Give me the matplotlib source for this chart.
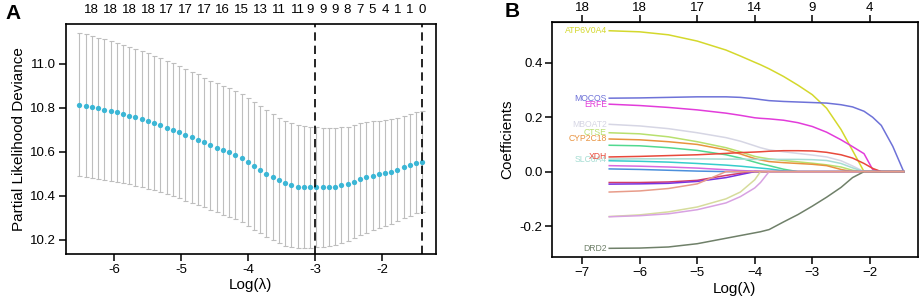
import numpy as np
import matplotlib.pyplot as plt

plt.rcParams['font.family'] = ['Liberation Sans', 'DejaVu Sans']

# ---- panel A: cross-validation curve ----
# glmnet lambda grid is evenly spaced in log(lambda)
log_lam = np.linspace(-6.52, -1.40, 56)
cv_mean = [10.814, 10.809, 10.803, 10.797, 10.791, 10.785, 10.779, 10.773, 10.764, 10.756,
           10.748, 10.739, 10.730, 10.721, 10.709, 10.700, 10.689, 10.677, 10.666, 10.655,
           10.642, 10.629, 10.618, 10.606, 10.597, 10.585, 10.570, 10.555, 10.536, 10.518,
           10.500, 10.485, 10.471, 10.456, 10.448, 10.442, 10.439, 10.439, 10.439, 10.439,
           10.439, 10.441, 10.447, 10.454, 10.464, 10.474, 10.483, 10.491, 10.497, 10.503,
           10.510, 10.519, 10.530, 10.541, 10.550, 10.555]
cv_sd = [0.326, 0.324, 0.322, 0.321, 0.319, 0.317, 0.315, 0.313, 0.311, 0.310,
         0.308, 0.307, 0.305, 0.304, 0.303, 0.301, 0.300, 0.299, 0.297, 0.296,
         0.294, 0.294, 0.293, 0.293, 0.292, 0.291, 0.291, 0.290, 0.289, 0.288,
         0.287, 0.286, 0.284, 0.283, 0.281, 0.279, 0.277, 0.275, 0.273, 0.270,
         0.268, 0.266, 0.263, 0.260, 0.257, 0.254, 0.251, 0.247, 0.244, 0.240,
         0.237, 0.235, 0.233, 0.231, 0.229, 0.228]
top_idx = [2, 5, 8, 11, 14, 17, 20, 23, 26, 29, 32, 35, 37, 39, 41, 43, 45, 47, 49, 51, 53, 55]
top_nz = [18, 18, 18, 18, 17, 17, 17, 16, 15, 13, 11, 11, 9, 9, 9, 8, 7, 5, 4, 1, 1, 0]
lam_min = -3.0
lam_1se = -1.40

# ---- panel B: coefficient paths ----
knots = [-6.53, -6.0, -5.5, -5.0, -4.5, -4.25, -4.0, -3.9, -3.75, -3.5,
         -3.25, -3.0, -2.75, -2.5, -2.3, -2.1, -1.95, -1.8, -1.6, -1.41]
atp6v0a4 = [0.518, 0.514, 0.503, 0.480, 0.447, 0.425, 0.402, 0.393, 0.378, 0.350,
            0.318, 0.283, 0.233, 0.155, 0.078, 0, 0, 0, 0, 0]
mocos = [0.270, 0.271, 0.273, 0.275, 0.275, 0.273, 0.268, 0.265, 0.261, 0.258,
         0.256, 0.254, 0.252, 0.246, 0.238, 0.222, 0.200, 0.170, 0.093, 0]
erfe = [0.248, 0.243, 0.236, 0.227, 0.215, 0.207, 0.198, 0.196, 0.194, 0.189,
        0.180, 0.166, 0.145, 0.117, 0.092, 0.066, 0.008, 0, 0, 0]
mboat2 = [0.174, 0.168, 0.158, 0.143, 0.125, 0.112, 0.095, 0.088, 0.080, 0.073,
          0.067, 0.061, 0.054, 0.040, 0.021, 0, 0, 0, 0, 0]
ctse = [0.143, 0.139, 0.128, 0.110, 0.088, 0.073, 0.056, 0.052, 0.047, 0.041,
        0.036, 0.031, 0.025, 0.017, 0.005, 0, 0, 0, 0, 0]
cyp2c18 = [0.120, 0.117, 0.110, 0.100, 0.080, 0.065, 0.048, 0.043, 0.037, 0.033,
           0.030, 0.027, 0.022, 0.008, 0, 0, 0, 0, 0, 0]
gene_g = [0.097, 0.095, 0.088, 0.078, 0.062, 0.050, 0.035, 0.029, 0.022, 0.009,
          0, 0, 0, 0, 0, 0, 0, 0, 0, 0]
xdh = [0.054, 0.056, 0.059, 0.062, 0.067, 0.070, 0.072, 0.073, 0.075, 0.077,
       0.077, 0.076, 0.071, 0.062, 0.050, 0.030, 0.012, 0, 0, 0]
slc = [0.046, 0.047, 0.047, 0.047, 0.046, 0.046, 0.045, 0.045, 0.045, 0.045,
       0.045, 0.044, 0.041, 0.030, 0.014, 0, 0, 0, 0, 0]
gene_c = [0.040, 0.038, 0.035, 0.030, 0.024, 0.020, 0.015, 0.013, 0.010, 0.003,
          0, 0, 0, 0, 0, 0, 0, 0, 0, 0]
gene_o = [0.022, 0.020, 0.017, 0.013, 0.007, 0.004, 0.002, 0.001, 0, 0,
          0, 0, 0, 0, 0, 0, 0, 0, 0, 0]
gene_b = [0.010, 0.008, 0.005, 0.002, 0, 0, 0, 0, 0, 0,
          0, 0, 0, 0, 0, 0, 0, 0, 0, 0]
gene_r = [-0.040, -0.040, -0.038, -0.032, -0.014, -0.006, 0, 0, 0, 0,
          0, 0, 0, 0, 0, 0, 0, 0, 0, 0]
gene_p = [-0.046, -0.045, -0.043, -0.036, -0.022, -0.011, 0, 0, 0, 0,
          0, 0, 0, 0, 0, 0, 0, 0, 0, 0]
gene_y = [-0.165, -0.159, -0.148, -0.130, -0.100, -0.075, -0.030, 0, 0, 0,
          0, 0, 0, 0, 0, 0, 0, 0, 0, 0]
gene_lp = [-0.166, -0.162, -0.155, -0.140, -0.115, -0.092, -0.060, -0.040, 0, 0,
           0, 0, 0, 0, 0, 0, 0, 0, 0, 0]
drd2 = [-0.282, -0.281, -0.277, -0.265, -0.245, -0.235, -0.225, -0.221, -0.213, -0.185,
        -0.158, -0.127, -0.094, -0.058, -0.022, 0, 0, 0, 0, 0]
gene_s = [-0.075, -0.071, -0.062, -0.045, 0, 0, 0, 0, 0, 0,
          0, 0, 0, 0, 0, 0, 0, 0, 0, 0]
b_top_ticks = [-7, -6, -5, -4, -3, -2]
b_top_nz = [18, 18, 17, 14, 9, 4]

# (values, color, label or None) - drawn in this order
paths = [
  (atp6v0a4, '#D4D82C', 'ATP6V0A4'),
  (mocos, '#6E72D8', 'MOCOS'),
  (erfe, '#E23CDA', 'ERFE'),
  (mboat2, '#D6D6E4', 'MBOAT2'),
  (ctse, '#B8E06E', 'CTSE'),
  (cyp2c18, '#E8923E', 'CYP2C18'),
  (gene_g, '#52D990', None),
  (slc, '#A6DDD3', 'SLC6A4'),
  (xdh, '#E8493B', 'XDH'),
  (gene_c, '#36CCCC', None),
  (gene_o, '#D86AE0', None),
  (gene_b, '#4C8FDC', None),
  (gene_r, '#D23C6A', None),
  (gene_p, '#7A32E0', None),
  (gene_y, '#D6DC9C', None),
  (gene_lp, '#D8A2E2', None),
  (drd2, '#6F8069', 'DRD2'),
  (gene_s, '#E89C8A', None),
]

fig = plt.figure(figsize=(9.2, 3.06), dpi=100)

# ---------- A ----------
ax = fig.add_axes([0.0717, 0.170, 0.402, 0.752])
ax.errorbar(log_lam, cv_mean, yerr=cv_sd, fmt='none', ecolor='#BEBEBE',
            elinewidth=0.8, capsize=1.8, capthick=0.8)
ax.plot(log_lam, cv_mean, 'o', color='#3BB6D5', ms=3.8, mec='none')
ax.axvline(lam_min, color='black', lw=1.2, ls=(0, (5, 3)))
ax.axvline(lam_1se, color='black', lw=1.2, ls=(0, (5, 3)))
ax.set_xlim(-6.72, -1.20)
ax.set_ylim(10.136, 11.18)
ax.set_xticks([-6, -5, -4, -3, -2])
ax.set_xticklabels(['-6', '-5', '-4', '-3', '-2'])
ax.set_yticks([10.2, 10.4, 10.6, 10.8, 11.0])
ax.set_yticklabels(['10.2', '10.4', '10.6', '10.8', '11.0'])
ax.tick_params(direction='out', length=5, width=1.1, labelsize=9.5, pad=2)
for s in ax.spines.values():
  s.set_linewidth(1.2)
ax.set_xlabel('Log(λ)', fontsize=11, labelpad=2)
ax.set_ylabel('Partial Likelihood Deviance', fontsize=11, labelpad=3)
for i, nz in zip(top_idx, top_nz):
  ax.text(log_lam[i], 1.035, str(nz), transform=ax.get_xaxis_transform(),
          ha='center', va='bottom', fontsize=9.5)
fig.text(0.006, 0.955, 'A', fontsize=15, fontweight='bold', va='center')

# ---------- B ----------
bx = fig.add_axes([0.6003, 0.160, 0.397, 0.768])
for vals, col, lab in paths:
  bx.plot(knots, vals, color=col, lw=1.1)
for vals, col, lab in paths:
  if lab is not None:
    bx.text(-6.57, vals[0], lab, color=col, fontsize=6.2, ha='right', va='center')
bx.set_xlim(-7.52, -1.17)
bx.set_ylim(-0.314, 0.55)
bx.set_xticks([-7, -6, -5, -4, -3, -2])
bx.set_xticklabels(['\u22127', '\u22126', '\u22125', '\u22124', '\u22123', '\u22122'])
bx.set_yticks([-0.2, 0.0, 0.2, 0.4])
bx.set_yticklabels(['-0.2', '0.0', '0.2', '0.4'])
bx.tick_params(direction='out', length=5, width=1.1, labelsize=9.5, pad=2)
for s in bx.spines.values():
  s.set_linewidth(1.2)
bx.set_xlabel('Log(λ)', fontsize=11, labelpad=2)
bx.set_ylabel('Coefficients', fontsize=11, labelpad=4)
top = bx.secondary_xaxis('top')
top.set_xticks(b_top_ticks)
top.set_xticklabels([str(v) for v in b_top_nz])
top.tick_params(direction='out', length=5, width=1.1, labelsize=9.5, pad=1)
fig.text(0.548, 0.962, 'B', fontsize=15, fontweight='bold', va='center')

fig.savefig('out.png', dpi=100)
